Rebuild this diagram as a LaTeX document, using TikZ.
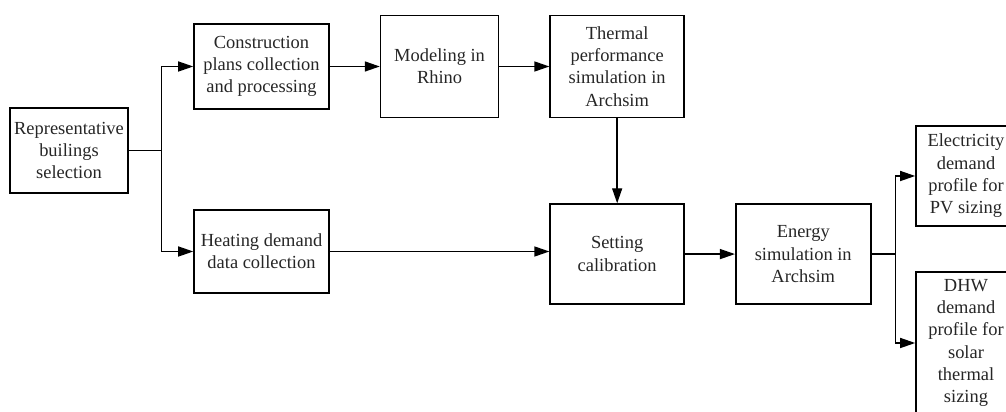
\documentclass[tikz,border=0pt]{standalone}
\usepackage{fontspec}
\setmainfont{Liberation Serif}
\usepackage{tikz}
\usetikzlibrary{arrows.meta, positioning, calc}

\begin{document}
\begin{tikzpicture}[node distance=1cm, >={Triangle[length=3mm, width=2mm]},
  box/.style={draw, line width=0.9pt, align=center, inner sep=2pt,
              text=black!85, font=\fontsize{10.5}{12.7}\selectfont},
  widebox/.style={box, minimum width=2.7cm, minimum height=1.7cm},
  tallbox/.style={box, minimum width=2.68cm, minimum height=2.04cm},
  outbox/.style={box, minimum width=2cm, minimum height=2cm},
  link/.style={->, line width=0.8pt},
]
\useasboundingbox (0,0) rectangle (20.12,-8.24);
\clip (0,0) rectangle (20.12,-8.24);

% Start
\node[box, minimum width=2.36cm, minimum height=1.7cm] (rep) at (1.38,-3.01)
     {Representative\\builings\\selection};

% Upper path
\node[widebox] (cons) at (5.23,-1.33) {Construction\\plans collection\\and processing};
\node[tallbox, minimum width=2.36cm, right=of cons] (rhino) {Modeling in\\Rhino};
\node[tallbox, right=of rhino] (therm) {Thermal\\performance\\simulation in\\Archsim};

% Lower path
\node[widebox, minimum height=1.66cm] (heat) at (5.23,-5.03) {Heating demand\\data collection};
\node[tallbox, minimum height=2cm, below=1.7cm of therm] (calib) {Setting\\calibration};
\node[widebox, minimum height=2cm, right=of calib] (energy) {Energy\\simulation in\\Archsim};

% Outputs
\node[outbox] (elec) at (19.32,-3.52) {Electricity\\demand\\profile for\\PV sizing};
\node[outbox, minimum height=2.84cm] (dhw) at (19.32,-6.86)
     {DHW\\demand\\profile for\\solar\\thermal\\sizing};

% Splits
\coordinate (split1) at ($(rep.east)+(0.66,0)$);
\coordinate (split2) at ($(energy.east)+(0.48,0)$);

% Arrows
\draw[line width=0.8pt] (rep.east) -- (split1);
\draw[link] (split1) |- (cons);
\draw[link] (split1) |- (heat);
\draw[link] (cons) -- (rhino);
\draw[link] (rhino) -- (therm);
\draw[link] (therm) -- (calib);
\draw[link] (heat.east) -- (heat.east -| calib.west);
\draw[link] (calib) -- (energy);
\draw[line width=0.8pt] (energy.east) -- (split2);
\draw[link] (split2) |- (elec);
\draw[link] (split2) |- (dhw);

\end{tikzpicture}
\end{document}
